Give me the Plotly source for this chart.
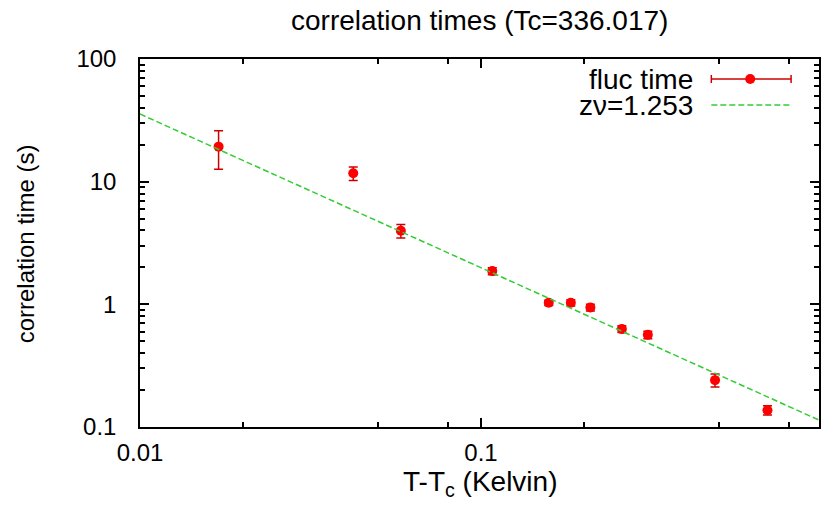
import plotly.graph_objects as go

# ---- data ----
dT = [0.0170, 0.0422, 0.0582, 0.1079, 0.158, 0.1834, 0.2093, 0.2589, 0.3085, 0.4857, 0.692]
tau = [19.3, 11.7, 3.98, 1.866, 1.03, 1.03, 0.943, 0.628, 0.564, 0.241, 0.137]
tau_err = [6.7, 1.5, 0.5, 0.12, 0.05, 0.06, 0.06, 0.04, 0.04, 0.029, 0.012]

fit_x = [0.01, 1.0]
fit_y = [35.6, 0.111]

x_tickvals = [0.01, 0.1]
x_ticktext = ["0.01", "0.1"]
x_minor = [0.02, 0.05, 0.08, 0.2, 0.5, 0.8]
y_tickvals = [0.1, 1, 10, 100]
y_ticktext = ["0.1", "1", "10", "100"]
y_minor = [m * d for d in (0.1, 1, 10) for m in range(2, 10)]

title_text = "correlation times (Tc=336.017)"
xlabel = "T-T<sub>c</sub> (Kelvin)"
ylabel = "correlation time (s)"
legend_names = ["fluc time", "zν=1.253"]

# ---- figure geometry ----
W, H = 821, 506
L, R, T, B = 140, 0, 59, 79
pw, ph = W - L - R, H - T - B
FONT = "Liberation Sans, Arial, sans-serif"
RED = "#ff0000"
DRED = "#cc0000"
GREEN = "#33cc33"

def px_x(p):
    return (p - L) / pw

def px_y(p):
    return 1 - (p - T) / ph

fig = go.Figure()
fig.add_trace(go.Scatter(
    x=dT, y=tau, mode="markers", name=legend_names[0],
    marker=dict(color=RED, size=10, symbol="circle"),
    error_y=dict(type="data", array=tau_err, visible=True, color=DRED, thickness=1.5, width=4.5),
    showlegend=False,
))
fig.add_trace(go.Scatter(
    x=fit_x, y=fit_y, mode="lines", name=legend_names[1],
    line=dict(color=GREEN, width=1.5, dash="6px,3px"),
    showlegend=False,
))

axis_common = dict(
    showline=True, linecolor="black", linewidth=1.5, mirror="allticks",
    ticks="inside", ticklen=9, tickwidth=1.5, tickcolor="black",
    showgrid=False, zeroline=False,
    tickfont=dict(family=FONT, size=24, color="black"),
)

fig.update_xaxes(
    type="log", range=[-2, -2 + pw / 342.0],
    tickmode="array", tickvals=x_tickvals, ticktext=x_ticktext,
    minor=dict(tickmode="array", tickvals=x_minor, ticks="inside", ticklen=5, tickwidth=1.5, tickcolor="black"),
    ticklabelstandoff=3,
    **axis_common,
)
fig.update_yaxes(
    type="log", range=[-1, 2],
    tickmode="array", tickvals=y_tickvals, ticktext=y_ticktext,
    minor=dict(tickmode="array", tickvals=y_minor, ticks="inside", ticklen=5, tickwidth=1.5, tickcolor="black"),
    ticklabelstandoff=17,
    **axis_common,
)

annotations = [
    dict(text=title_text, xref="paper", yref="paper", x=px_x(480), y=px_y(20),
         xanchor="center", yanchor="middle", showarrow=False,
         font=dict(family=FONT, size=28, color="black")),
    dict(text=xlabel, xref="paper", yref="paper", x=px_x(482), y=px_y(483),
         xanchor="center", yanchor="middle", showarrow=False,
         font=dict(family=FONT, size=28, color="black")),
    dict(text=ylabel, xref="paper", yref="paper", x=px_x(26), y=px_y(244),
         xanchor="center", yanchor="middle", showarrow=False, textangle=-90,
         font=dict(family=FONT, size=24, color="black")),
    dict(text=legend_names[0], xref="paper", yref="paper", x=px_x(697), y=px_y(79),
         xanchor="right", yanchor="middle", showarrow=False, height=24,
         font=dict(family=FONT, size=28, color="black")),
    dict(text=legend_names[1], xref="paper", yref="paper", x=px_x(697), y=px_y(105),
         xanchor="right", yanchor="middle", showarrow=False, height=24,
         font=dict(family=FONT, size=28, color="black")),
]

shapes = [
    # legend sample: error bar
    dict(type="line", xref="paper", yref="paper", x0=px_x(713), x1=px_x(793), y0=px_y(79), y1=px_y(79),
         line=dict(color=DRED, width=1.5)),
    dict(type="line", xref="paper", yref="paper", x0=px_x(713), x1=px_x(713),
         ysizemode="pixel", yanchor=px_y(79), y0=-4, y1=4, line=dict(color=DRED, width=1.5)),
    dict(type="line", xref="paper", yref="paper", x0=px_x(793), x1=px_x(793),
         ysizemode="pixel", yanchor=px_y(79), y0=-4, y1=4, line=dict(color=DRED, width=1.5)),
    dict(type="circle", xref="paper", yref="paper", xsizemode="pixel", ysizemode="pixel",
         xanchor=px_x(752), yanchor=px_y(79), x0=-5, x1=5, y0=-5, y1=5,
         fillcolor=RED, line=dict(color=RED, width=0)),
    # legend sample: fit line
    dict(type="line", xref="paper", yref="paper", x0=px_x(713), x1=px_x(793), y0=px_y(105), y1=px_y(105),
         line=dict(color=GREEN, width=1.5, dash="6px,3px")),
]

fig.update_layout(
    width=W, height=H,
    margin=dict(l=L, r=R, t=T, b=B, pad=0),
    paper_bgcolor="white", plot_bgcolor="white",
    showlegend=False,
    annotations=annotations,
    shapes=shapes,
    font=dict(family=FONT, color="black"),
)

fig.write_html(
    "out.html",
    config={"displayModeBar": False},
    post_script="document.body.style.margin='0';document.body.style.overflow='hidden';",
)
